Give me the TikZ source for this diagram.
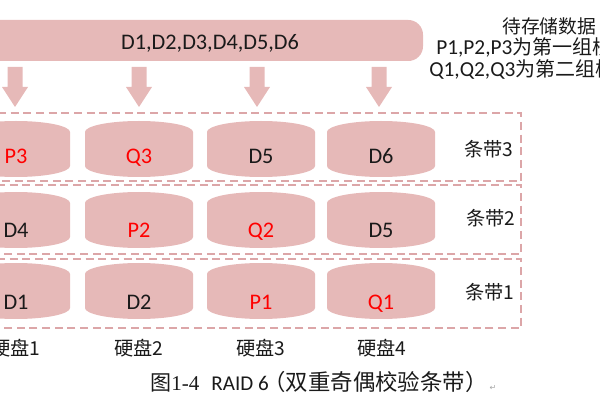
\documentclass[tikz,border=0pt]{standalone}
\usepackage{fontspec}
\setmainfont{Carlito}
\newfontfamily\cjk{Noto Sans CJK SC}
\newfontfamily\serifL{Liberation Serif}
\newfontfamily\symf{DejaVu Sans}
\definecolor{pinkfill}{HTML}{E6B9B8}
\definecolor{pinkdash}{HTML}{DCA6A8}
\definecolor{redtxt}{HTML}{FF0000}
\definecolor{blktxt}{HTML}{1A1A1A}
\newcommand\mydisk[6]{%
  \fill[pinkfill] ({#2-54},{#3+17}) arc[start angle=180,end angle=0,x radius=40.5pt,y radius=8.25pt]
    -- ({#2+54},{#3-17}) arc[start angle=0,end angle=-180,x radius=40.5pt,y radius=8.25pt] -- cycle;
  \node[lbl,text=#6] (#1) at (#2,#4) {#5};}
\begin{document}
\begin{tikzpicture}[x=0.75pt,y=0.75pt,
  stripebox/.style={draw=pinkdash,line width=1pt,dash pattern=on 6pt off 3.5pt},
  lbl/.style={anchor=base,inner sep=0pt,font=\fontsize{16.7pt}{18pt}\selectfont},
  cjklbl/.style={anchor=base,inner sep=0pt,text=blktxt,font=\cjk\fontsize{14.4pt}{16pt}\selectfont},
  sidetxt/.style={anchor=base west,inner sep=0pt,text=blktxt,font=\fontsize{16pt}{18pt}\selectfont},
  bararrow/.style={fill=pinkfill}]
\useasboundingbox (0,0) rectangle (600,400);
\clip (0,0) rectangle (600,400);
% top bar
\node[fill=pinkfill,rounded corners=11pt,minimum width=339.75pt,minimum height=30.75pt,inner sep=0pt] (bar) at (196.5,359.5) {};
\node[lbl,text=blktxt] (bartxt) at (210,350) {D1,D2,D3,D4,D5,D6};
% side text
\node[sidetxt] (t1) at (502,366) {\cjk\fontsize{14.1pt}{18pt}\selectfont 待存储数据};
\node[sidetxt] (t2) at (436,345) {P1,P2,P3{\cjk\fontsize{15pt}{18pt}\selectfont 为第一组校}};
\node[sidetxt] (t3) at (429,323) {Q1,Q2,Q3{\cjk\fontsize{15pt}{18pt}\selectfont 为第二组校}};
% arrows
\foreach \ax in {15,139,257,379}
  \fill[bararrow] ({\ax-7.5},333) -- ({\ax+7.5},333) -- ({\ax+7.5},313) -- ({\ax+13},313)
    -- (\ax,293) -- ({\ax-13},313) -- ({\ax-7.5},313) -- cycle;
% stripe boxes
\draw[stripebox] (-10,219) rectangle (521,287);
\draw[stripebox] (-10,146) rectangle (521,215);
\draw[stripebox] (-10,72) rectangle (521,141);
% disks row 3
\mydisk{a3}{16}{251}{236}{P3}{redtxt}
\mydisk{b3}{139}{251}{236}{Q3}{redtxt}
\mydisk{c3}{261}{251}{236}{D5}{blktxt}
\mydisk{d3}{381}{251}{236}{D6}{blktxt}
% disks row 2
\mydisk{a2}{16}{180}{162}{D4}{blktxt}
\mydisk{b2}{139}{180}{162}{P2}{redtxt}
\mydisk{c2}{261}{180}{162}{Q2}{redtxt}
\mydisk{d2}{381}{180}{162}{D5}{blktxt}
% disks row 1
\mydisk{a1}{16}{109}{90}{D1}{blktxt}
\mydisk{b1}{139}{109}{90}{D2}{blktxt}
\mydisk{c1}{261}{109}{90}{P1}{redtxt}
\mydisk{d1}{381}{109}{90}{Q1}{redtxt}
% stripe labels
\node[cjklbl] (s3) at (489,243) {条带3};
\node[cjklbl] (s2) at (491,174) {条带2};
\node[cjklbl] (s1) at (490,100) {条带1};
% disk labels
\node[cjklbl] (h1) at (16,44) {硬盘1};
\node[cjklbl] (h2) at (139,44) {硬盘2};
\node[cjklbl] (h3) at (261,44) {硬盘3};
\node[cjklbl] (h4) at (382,44) {硬盘4};
% caption
\node[anchor=base west,inner sep=0pt,text=blktxt,font=\fontsize{15.8pt}{18pt}\selectfont] (cap) at (150,10)
  {{\cjk 图}{\serifL 1-4}\hspace{9pt}RAID 6\hspace{-4pt}{\cjk\fontsize{16.8pt}{18pt}\selectfont （双重奇偶校验条带）}};
\node[inner sep=0pt,text=black!35,font=\symf\fontsize{6pt}{6pt}\selectfont] (ret) at (493,12) {↵};
\end{tikzpicture}
\end{document}
